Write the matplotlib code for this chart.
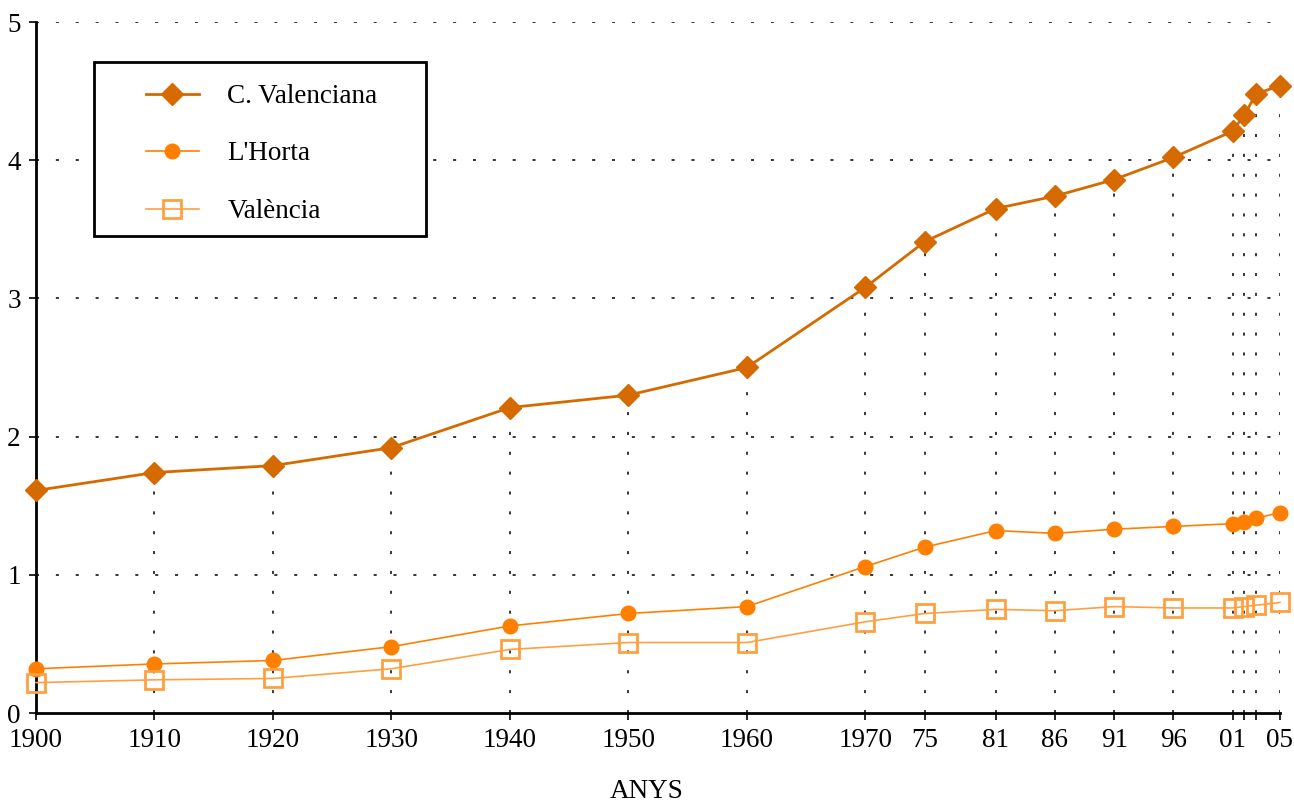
import matplotlib
matplotlib.use("Agg")
import matplotlib.pyplot as plt
from matplotlib.patches import Rectangle

years = [1900, 1910, 1920, 1930, 1940, 1950, 1960, 1970, 1975, 1981, 1986,
         1991, 1996, 2001, 2002, 2003, 2005]
year_labels = ["1900", "1910", "1920", "1930", "1940", "1950", "1960", "1970",
               "75", "81", "86", "91", "96", "01", "", "", "05"]

c_valenciana = [1.61, 1.74, 1.79, 1.92, 2.21, 2.30, 2.50, 3.08, 3.41, 3.65,
                3.74, 3.86, 4.02, 4.21, 4.33, 4.48, 4.54]
horta = [0.32, 0.355, 0.38, 0.48, 0.63, 0.72, 0.77, 1.06, 1.20, 1.32, 1.30,
         1.33, 1.35, 1.37, 1.38, 1.41, 1.45]
valencia = [0.22, 0.24, 0.25, 0.32, 0.46, 0.51, 0.51, 0.66, 0.72, 0.75, 0.74,
            0.77, 0.76, 0.76, 0.77, 0.78, 0.80]

plt.rcParams['font.family'] = ['Liberation Serif', 'DejaVu Serif']
FS = 19.5

W, H = 1294, 805
fig = plt.figure(figsize=(W / 100, H / 100), dpi=100)
ax = fig.add_axes([36 / W, 1 - 713 / H, (1280 - 36) / W, (713 - 22) / H])

grid_style = dict(color='black', linewidth=1.1, linestyle=(0, (2, 11)), zorder=1)
# drop lines from the top series and horizontal guides
ax.vlines(years, 0, c_valenciana, **grid_style)
ax.hlines([1, 2, 3, 4, 5], 1900, 2005, **grid_style)

ax.plot(years, c_valenciana, color='#D46A00', lw=2.0, marker='D', ms=11,
        mec='#D46A00', label='C. Valenciana', zorder=3, clip_on=False)
ax.plot(years, horta, color='#FF8000', lw=1.2, marker='o', ms=10.5,
        mec='#FF8000', label="L'Horta", zorder=3, clip_on=False)
ax.plot(years, valencia, color='#FFA040', lw=1.2, marker='s', ms=12.5,
        mfc='none', mec='#FFA040', mew=2, label='València', zorder=3,
        clip_on=False)

ax.set_xlim(1900, 2005)
ax.set_ylim(0, 5)
ax.set_xticks(years)
ax.set_xticklabels(year_labels, fontsize=FS)
ax.set_yticks([0, 1, 2, 3, 4, 5])
ax.set_yticklabels(['0', '1', '2', '3', '4', '5'], fontsize=FS)
ax.tick_params(axis='x', direction='out', length=5, width=1.2, pad=6)
ax.tick_params(axis='y', direction='out', length=5, width=1.2, pad=6)

for s in ['top', 'right']:
    ax.spines[s].set_visible(False)
for s in ['left', 'bottom']:
    ax.spines[s].set_linewidth(2)

fig.text(0.5, 1 - 791 / H, 'ANYS', fontsize=FS, ha='center', va='center')

# legend box drawn separately so the padding can match
box = Rectangle((94 / W, 1 - 236 / H), 332 / W, 174 / H, transform=fig.transFigure,
                facecolor='white', edgecolor='black', linewidth=2, zorder=4)
ax.add_artist(box)
leg = ax.legend(loc='upper left', bbox_to_anchor=(146 / W, 1 - 84 / H),
                bbox_transform=fig.transFigure, fontsize=FS, frameon=False,
                borderpad=0, labelspacing=1.2, handlelength=1.95,
                handletextpad=1.05, borderaxespad=0)
leg.set_zorder(5)

fig.savefig('out.png', dpi=100)
